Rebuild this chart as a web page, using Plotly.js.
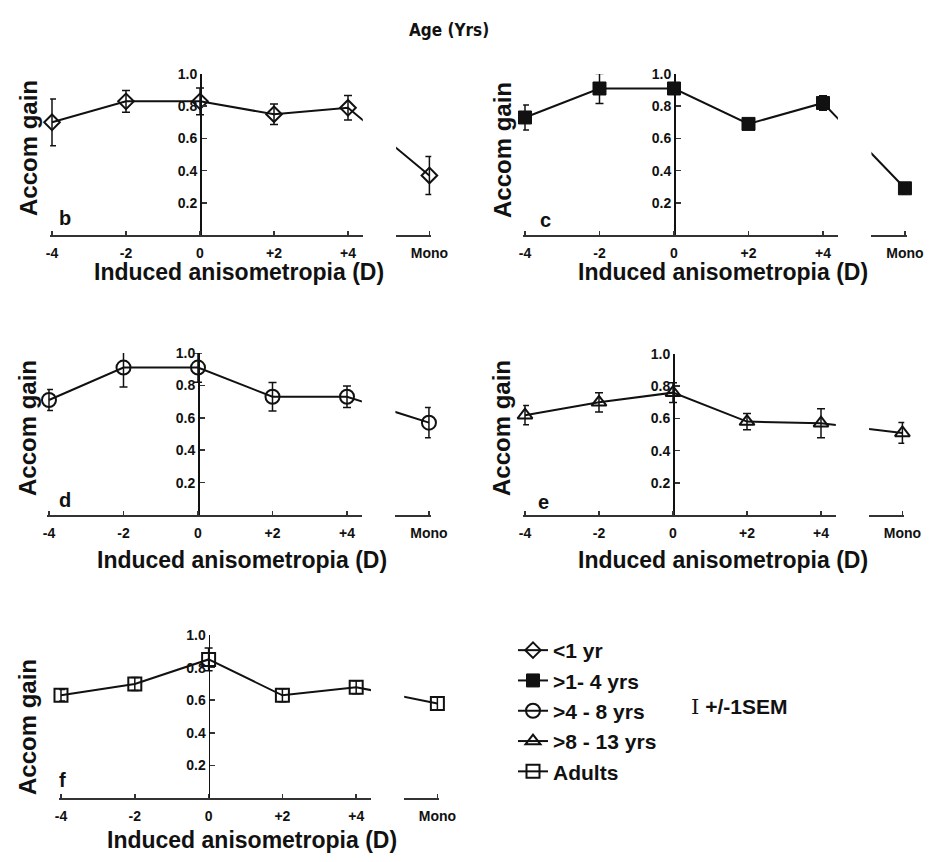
<!DOCTYPE html>
<html>
<head>
<meta charset="utf-8">
<script src="https://cdn.plot.ly/plotly-3.0.1.min.js"></script>
<style>html,body{margin:0;padding:0;background:#fff;}#chart{width:933px;height:862px;}</style>
</head>
<body>
<div id="chart"></div>
<script>
// ---------------- data ----------------
const X_VALS = [-4, -2, 0, 2, 4];
const X_LABELS = ['-4', '-2', '0', '+2', '+4'];
const MONO_X = 6.2;
const MONO_LABEL = 'Mono';
const Y_TICKS = [0.2, 0.4, 0.6, 0.8, 1.0];
const Y_LABELS = ['0.2', '0.4', '0.6', '0.8', '1.0'];

const SERIES_NAMES = ['&lt;1 yr', '&gt;1- 4 yrs', '&gt;4 - 8 yrs', '&gt;8 - 13 yrs', 'Adults'];
const PANEL_LETTERS = ['b', 'c', 'd', 'e', 'f'];

// <1 yr
const gainLt1 = [0.70, 0.83, 0.83, 0.75, 0.79];
const monoLt1 = 0.37;
const semLt1 = [0.145, 0.068, 0.083, 0.064, 0.076];
const semMonoLt1 = 0.118;
// >1-4 yrs
const gain1to4 = [0.73, 0.91, 0.91, 0.69, 0.82];
const mono1to4 = 0.29;
const sem1to4 = [0.078, 0.093, 0.03, 0.03, 0.045];
const semMono1to4 = 0.035;
// >4-8 yrs
const gain4to8 = [0.71, 0.91, 0.91, 0.73, 0.73];
const mono4to8 = 0.57;
const sem4to8 = [0.065, 0.12, 0.09, 0.088, 0.066];
const semMono4to8 = 0.093;
// >8-13 yrs
const gain8to13 = [0.62, 0.70, 0.76, 0.58, 0.57];
const mono8to13 = 0.51;
const sem8to13 = [0.06, 0.06, 0.062, 0.05, 0.09];
const semMono8to13 = 0.065;
// Adults
const gainAdults = [0.63, 0.70, 0.85, 0.63, 0.68];
const monoAdults = 0.58;
const semAdults = [0.035, 0.04, 0.07, 0.04, 0.04];
const semMonoAdults = 0.04;

const GAINS = [gainLt1, gain1to4, gain4to8, gain8to13, gainAdults];
const MONOS = [monoLt1, mono1to4, mono4to8, mono8to13, monoAdults];
const SEMS = [semLt1, sem1to4, sem4to8, sem8to13, semAdults];
const SEM_MONOS = [semMonoLt1, semMono1to4, semMono4to8, semMono8to13, semMonoAdults];

// ---------------- styling / geometry ----------------
const W = 933, H = 862;
const FONT = 'Liberation Sans, Arial, Helvetica, sans-serif';
const SYMBOLS = ['diamond-open', 'square', 'circle-open', 'triangle-up-open', 'square-open'];
const SIZES = [12, 13, 14, 13, 13];
// pixel geometry of each panel: x of "-4", px per unit, y of 0, y of 1.0
const GEOM = [
  {xm4: 52, k: 37.0, y0: 235, y1: 74},
  {xm4: 525, k: 37.25, y0: 235, y1: 74},
  {xm4: 49, k: 37.25, y0: 515, y1: 353},
  {xm4: 525, k: 37.0, y0: 515, y1: 354},
  {xm4: 61, k: 36.9, y0: 798, y1: 635}
];
const MAIN_RANGE = [-4.05, 4.4];
const MONO_RANGE = [5.3, 6.25];

const fx = px => px / W;
const fy = py => 1 - py / H;

const traces = [];
const layout = {
  width: W, height: H,
  margin: {l: 0, r: 0, t: 0, b: 0},
  paper_bgcolor: '#fff', plot_bgcolor: 'rgba(0,0,0,0)',
  font: {family: FONT, size: 14, color: '#111', weight: 'bold'},
  showlegend: true,
  legend: {x: fx(513), y: fy(630), xanchor: 'left', yanchor: 'top',
           font: {family: FONT, size: 21, color: '#111', weight: 'bold'},
           bgcolor: 'rgba(0,0,0,0)', tracegroupgap: 0},
  annotations: [],
  hovermode: false
};

const labelPos = [
  {acc: [28, 148], ind: [239, 272], let: [65, 218]},
  {acc: [503, 150], ind: [723, 272], let: [545, 220]},
  {acc: [28, 428], ind: [242, 560], let: [65, 500]},
  {acc: [502, 428], ind: [723, 560], let: [543, 502]},
  {acc: [27, 727], ind: [252, 840], let: [62, 780]}
];

GEOM.forEach((g, i) => {
  const mainIdx = 2 * i + 1, monoIdx = 2 * i + 2, yIdx = i + 1;
  const xName = n => (n === 1 ? 'xaxis' : 'xaxis' + n);
  const yName = n => (n === 1 ? 'yaxis' : 'yaxis' + n);
  const xRef = n => (n === 1 ? 'x' : 'x' + n);
  const yRef = n => (n === 1 ? 'y' : 'y' + n);
  const toPx = v => g.xm4 + (v + 4) * g.k;

  const common = {
    showgrid: false, zeroline: false, showline: true,
    linecolor: '#333', linewidth: 2,
    ticks: 'inside', ticklen: 4, tickwidth: 1.5, tickcolor: '#333',
    tickfont: {family: FONT, size: 14, color: '#111', weight: 'bold'},
    ticklabelstandoff: 4, fixedrange: true,
    anchor: yRef(yIdx)
  };
  layout[xName(mainIdx)] = Object.assign({}, common, {
    domain: [fx(toPx(MAIN_RANGE[0])), fx(toPx(MAIN_RANGE[1]))],
    range: MAIN_RANGE, tickmode: 'array', tickvals: X_VALS, ticktext: X_LABELS
  });
  layout[xName(monoIdx)] = Object.assign({}, common, {
    domain: [fx(toPx(MONO_RANGE[0])), fx(toPx(MONO_RANGE[1]))],
    range: MONO_RANGE, tickmode: 'array', tickvals: [MONO_X], ticktext: [MONO_LABEL],
    tickfont: {family: FONT, size: 14, color: '#111', weight: 'bold'}
  });
  layout[yName(yIdx)] = {
    domain: [fy(g.y0), fy(g.y1)], range: [0, 1.0],
    anchor: 'free', position: fx(toPx(0)), side: 'left',
    showgrid: false, zeroline: false, showline: true,
    linecolor: '#111', linewidth: 1.5,
    ticks: 'inside', ticklen: 5, tickwidth: 1.5, tickcolor: '#333',
    tickmode: 'array', tickvals: Y_TICKS, ticktext: Y_LABELS,
    tickfont: {family: FONT, size: 14, color: '#111', weight: 'bold'},
    fixedrange: true
  };

  const xs = X_VALS.concat([MONO_X]);
  const ys = GAINS[i].concat([MONOS[i]]);
  const es = SEMS[i].concat([SEM_MONOS[i]]);
  const filled = SYMBOLS[i] === 'square';
  const base = {
    type: 'scatter', mode: 'lines+markers', x: xs, y: ys,
    error_y: {type: 'data', array: es, visible: true, color: '#111', thickness: 1.5, width: 4},
    line: {color: '#111', width: 2},
    marker: {symbol: SYMBOLS[i], size: SIZES[i], color: '#111',
             line: {color: '#111', width: filled ? 1 : 2}},
    cliponaxis: false, name: SERIES_NAMES[i], hoverinfo: 'skip'
  };
  traces.push(Object.assign({}, base, {xaxis: xRef(mainIdx), yaxis: yRef(yIdx), showlegend: true, legendrank: i + 1}));
  traces.push(Object.assign({}, base, {xaxis: xRef(monoIdx), yaxis: yRef(yIdx), showlegend: false}));

  const lp = labelPos[i];
  layout.annotations.push({
    xref: 'paper', yref: 'paper', x: fx(lp.acc[0]), y: fy(lp.acc[1]), text: 'Accom gain',
    textangle: -90, showarrow: false, xanchor: 'center', yanchor: 'middle',
    font: {family: FONT, size: 24, color: '#111', weight: 'bold'}
  });
  layout.annotations.push({
    xref: 'paper', yref: 'paper', x: fx(lp.ind[0]), y: fy(lp.ind[1]), text: 'Induced anisometropia (D)',
    showarrow: false, xanchor: 'center', yanchor: 'middle',
    font: {family: FONT, size: 23, color: '#111', weight: 'bold'}
  });
  layout.annotations.push({
    xref: 'paper', yref: 'paper', x: fx(lp.let[0]), y: fy(lp.let[1]), text: PANEL_LETTERS[i],
    showarrow: false, xanchor: 'center', yanchor: 'middle',
    font: {family: FONT, size: 20, color: '#111', weight: 'bold'}
  });
});

layout.annotations.push({
  xref: 'paper', yref: 'paper', x: fx(449), y: fy(30), text: 'Age (Yrs)',
  showarrow: false, xanchor: 'center', yanchor: 'middle',
  font: {family: 'Liberation Sans Narrow, DejaVu Sans Condensed, ' + FONT, size: 17, color: '#111', weight: 'bold'}
});
layout.annotations.push({
  xref: 'paper', yref: 'paper', x: fx(689), y: fy(707), text: '<span style="font-family:DejaVu Serif;font-weight:normal">I</span> +/-1SEM',
  showarrow: false, xanchor: 'left', yanchor: 'middle',
  font: {family: FONT, size: 21, color: '#111', weight: 'bold'}
});

Plotly.newPlot('chart', traces, layout, {displayModeBar: false, staticPlot: true});
</script>
</body>
</html>
